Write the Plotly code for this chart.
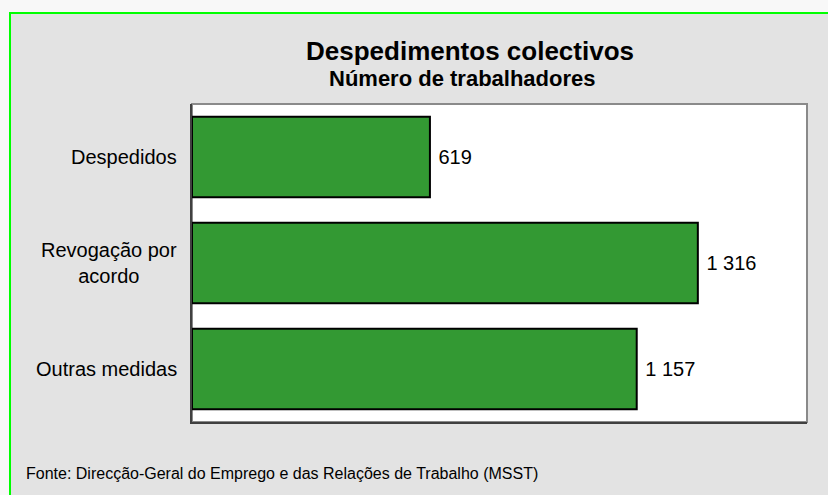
import plotly.graph_objects as go

# ---- data ----
categories = ["Despedidos", "Revogação por acordo", "Outras medidas"]
category_labels = ["Despedidos", "Revogação por<br>acordo", "Outras medidas"]
values = [619, 1316, 1157]

title_text = "Despedimentos colectivos"
subtitle_text = "Número de trabalhadores"
source_text = "Fonte: Direcção-Geral do Emprego e das Relações de Trabalho (MSST)"

# ---- geometry (pixels) ----
W, H = 828, 495
L, R, T, B = 192, 807, 104, 422


def px(x):
    return (x - L) / (R - L)


def py(y):
    return (B - y) / (B - T)


FONT = "Liberation Sans, Arial, Helvetica, sans-serif"

fig = go.Figure()
fig.add_trace(go.Bar(
    y=categories,
    x=values,
    orientation="h",
    width=0.76,
    marker=dict(color="#339933", line=dict(color="#000000", width=2)),
    texttemplate=" %{x:,d}",
    textposition="outside",
    textfont=dict(family=FONT, size=20, color="#000000"),
    cliponaxis=False,
    hoverinfo="skip",
))

shapes = [
    # outer panel with green border
    dict(type="rect", xref="paper", yref="paper", layer="below",
         x0=px(10), x1=px(845), y0=py(13), y1=py(510),
         fillcolor="#e3e3e3", line=dict(color="#00ff00", width=2)),
    # plot area
    dict(type="rect", xref="paper", yref="paper", layer="below",
         x0=0, x1=1, y0=0, y1=1,
         fillcolor="#ffffff", line=dict(color="#8a8a8a", width=2)),
]

annotations = [
    dict(text=f"<b>{title_text}</b>", xref="paper", yref="paper",
         x=px(470), y=py(51), xanchor="center", yanchor="middle",
         showarrow=False, font=dict(family=FONT, size=26, color="#000000")),
    dict(text=f"<b>{subtitle_text}</b>", xref="paper", yref="paper",
         x=px(462), y=py(79), xanchor="center", yanchor="middle",
         showarrow=False, font=dict(family=FONT, size=22, color="#000000")),
    dict(text=source_text, xref="paper", yref="paper",
         x=px(24), y=py(473), xanchor="left", yanchor="middle",
         showarrow=False, font=dict(family=FONT, size=16, color="#000000")),
]
for cat, lab in zip(categories, category_labels):
    annotations.append(dict(
        text=lab, xref="paper", yref="y", x=px(179), y=cat,
        xanchor="right", yanchor="middle", align="center", showarrow=False,
        font=dict(family=FONT, size=20, color="#000000")))

fig.update_layout(
    width=W, height=H,
    margin=dict(l=L, r=W - R, t=T, b=H - B, pad=0),
    paper_bgcolor="#f8f8f8",
    plot_bgcolor="#ffffff",
    separators=". ",
    showlegend=False,
    shapes=shapes,
    annotations=annotations,
    font=dict(family=FONT, color="#000000"),
    xaxis=dict(range=[0, 1600], showgrid=False, zeroline=False,
               showticklabels=False, ticks="", showline=True,
               linecolor="#404040", linewidth=2, mirror=False),
    yaxis=dict(categoryorder="array", categoryarray=categories,
               autorange="reversed", showgrid=False, zeroline=False,
               showticklabels=False, ticks="", showline=True,
               linecolor="#404040", linewidth=2),
)

fig.write_html(
    "out.html",
    config={"displayModeBar": False},
    post_script="document.body.style.margin='0';document.body.style.overflow='hidden';",
)
